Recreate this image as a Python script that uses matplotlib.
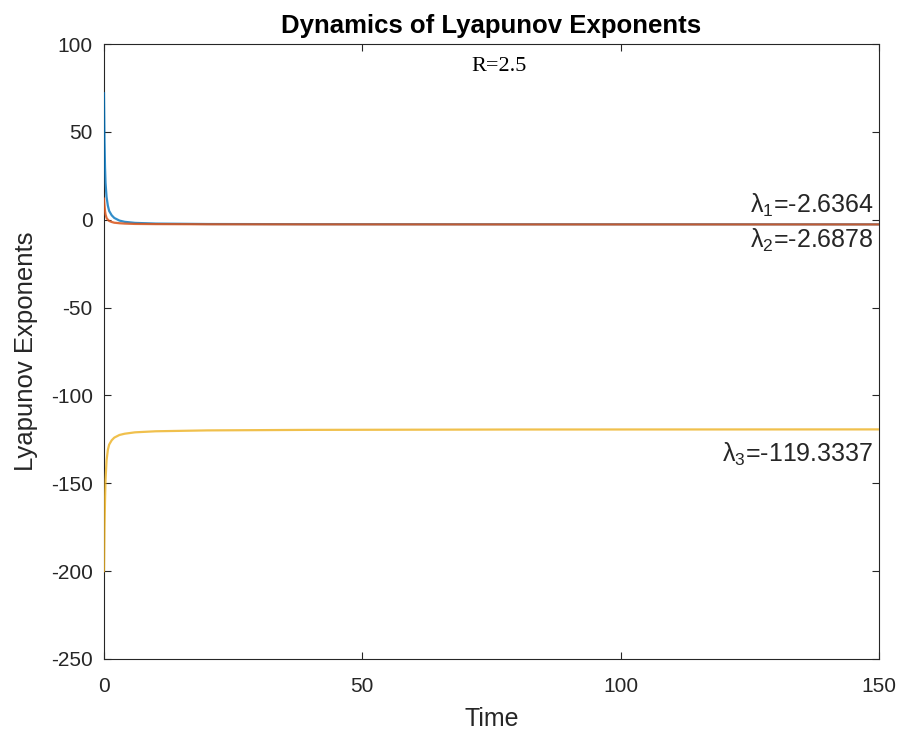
import matplotlib
matplotlib.use("Agg")
import matplotlib.pyplot as plt

# values
t = [0, 0.1, 0.2, 0.3, 0.5, 0.75, 1, 1.5, 2, 3, 4, 6, 10, 20, 40, 80, 150]
lam1 = [72, 45, 30, 21, 13, 8, 5, 2.5, 1, -0.5, -1.2, -1.8, -2.2, -2.45, -2.55, -2.6, -2.6364]
lam2 = [12, 8, 5, 3, 1, 0, -0.7, -1.3, -1.7, -2.0, -2.2, -2.4, -2.5, -2.6, -2.65, -2.68, -2.6878]
lam3 = [-200, -175, -160, -148, -137, -131, -128, -125.5, -124, -122.5, -121.8, -121, -120.4, -119.9, -119.6, -119.4, -119.3337]
labels = [r"$\mathrm{λ}_\mathrm{1}$=-2.6364", r"$\mathrm{λ}_\mathrm{2}$=-2.6878", r"$\mathrm{λ}_\mathrm{3}$=-119.3337"]
xticks = [0, 50, 100, 150]
yticks = [-250, -200, -150, -100, -50, 0, 50, 100]

plt.rcParams['font.family'] = ['Liberation Sans', 'DejaVu Sans']
plt.rcParams['axes.unicode_minus'] = False
plt.rcParams['mathtext.fontset'] = 'custom'
plt.rcParams['mathtext.rm'] = 'Liberation Sans'
plt.rcParams['mathtext.it'] = 'Liberation Sans:italic'

axc = '#262626'
fig = plt.figure(figsize=(9.01, 7.31), dpi=100)
ax = fig.add_axes([0.1154, 0.0985, 0.8602, 0.8413])

ax.plot(t, lam1, color='#0072BD', lw=1.6, alpha=0.8, zorder=3)
ax.plot(t, lam2, color='#D95319', lw=1.6, alpha=0.85, zorder=3)
ax.plot(t, lam3, color='#EDB120', lw=1.6, alpha=0.8, zorder=3)

ax.set_xlim(0, 150)
ax.set_ylim(-250, 100)
ax.set_xticks(xticks)
ax.set_yticks(yticks)
ax.tick_params(direction='in', top=True, right=True, length=5, width=0.8,
               labelsize=15, colors=axc, pad=8)
ax.tick_params(axis='x', pad=13)
for s in ax.spines.values():
    s.set_color(axc)
    s.set_linewidth(0.8)

ax.set_xlabel('Time', fontsize=18, color=axc, labelpad=8)
ax.set_ylabel('Lyapunov Exponents', fontsize=18.5, color=axc, labelpad=9)
ax.set_title('Dynamics of Lyapunov Exponents', fontsize=18.5, fontweight='bold', color='black', pad=8)

ax.text(76.4, 87, 'R=2.5', family='Liberation Serif', fontsize=16, ha='center', va='center')

ax.annotate(labels[0], (t[-1], lam1[-1]), xytext=(-4, 4), textcoords='offset points',
            ha='right', va='bottom', fontsize=18, color=axc)
ax.annotate(labels[1], (t[-1], lam2[-1]), xytext=(-4, -2), textcoords='offset points',
            ha='right', va='top', fontsize=18, color=axc)
ax.annotate(labels[2], (t[-1], lam3[-1]), xytext=(-4, -8), textcoords='offset points',
            ha='right', va='top', fontsize=18, color=axc)

fig.savefig('out.png', dpi=100)
